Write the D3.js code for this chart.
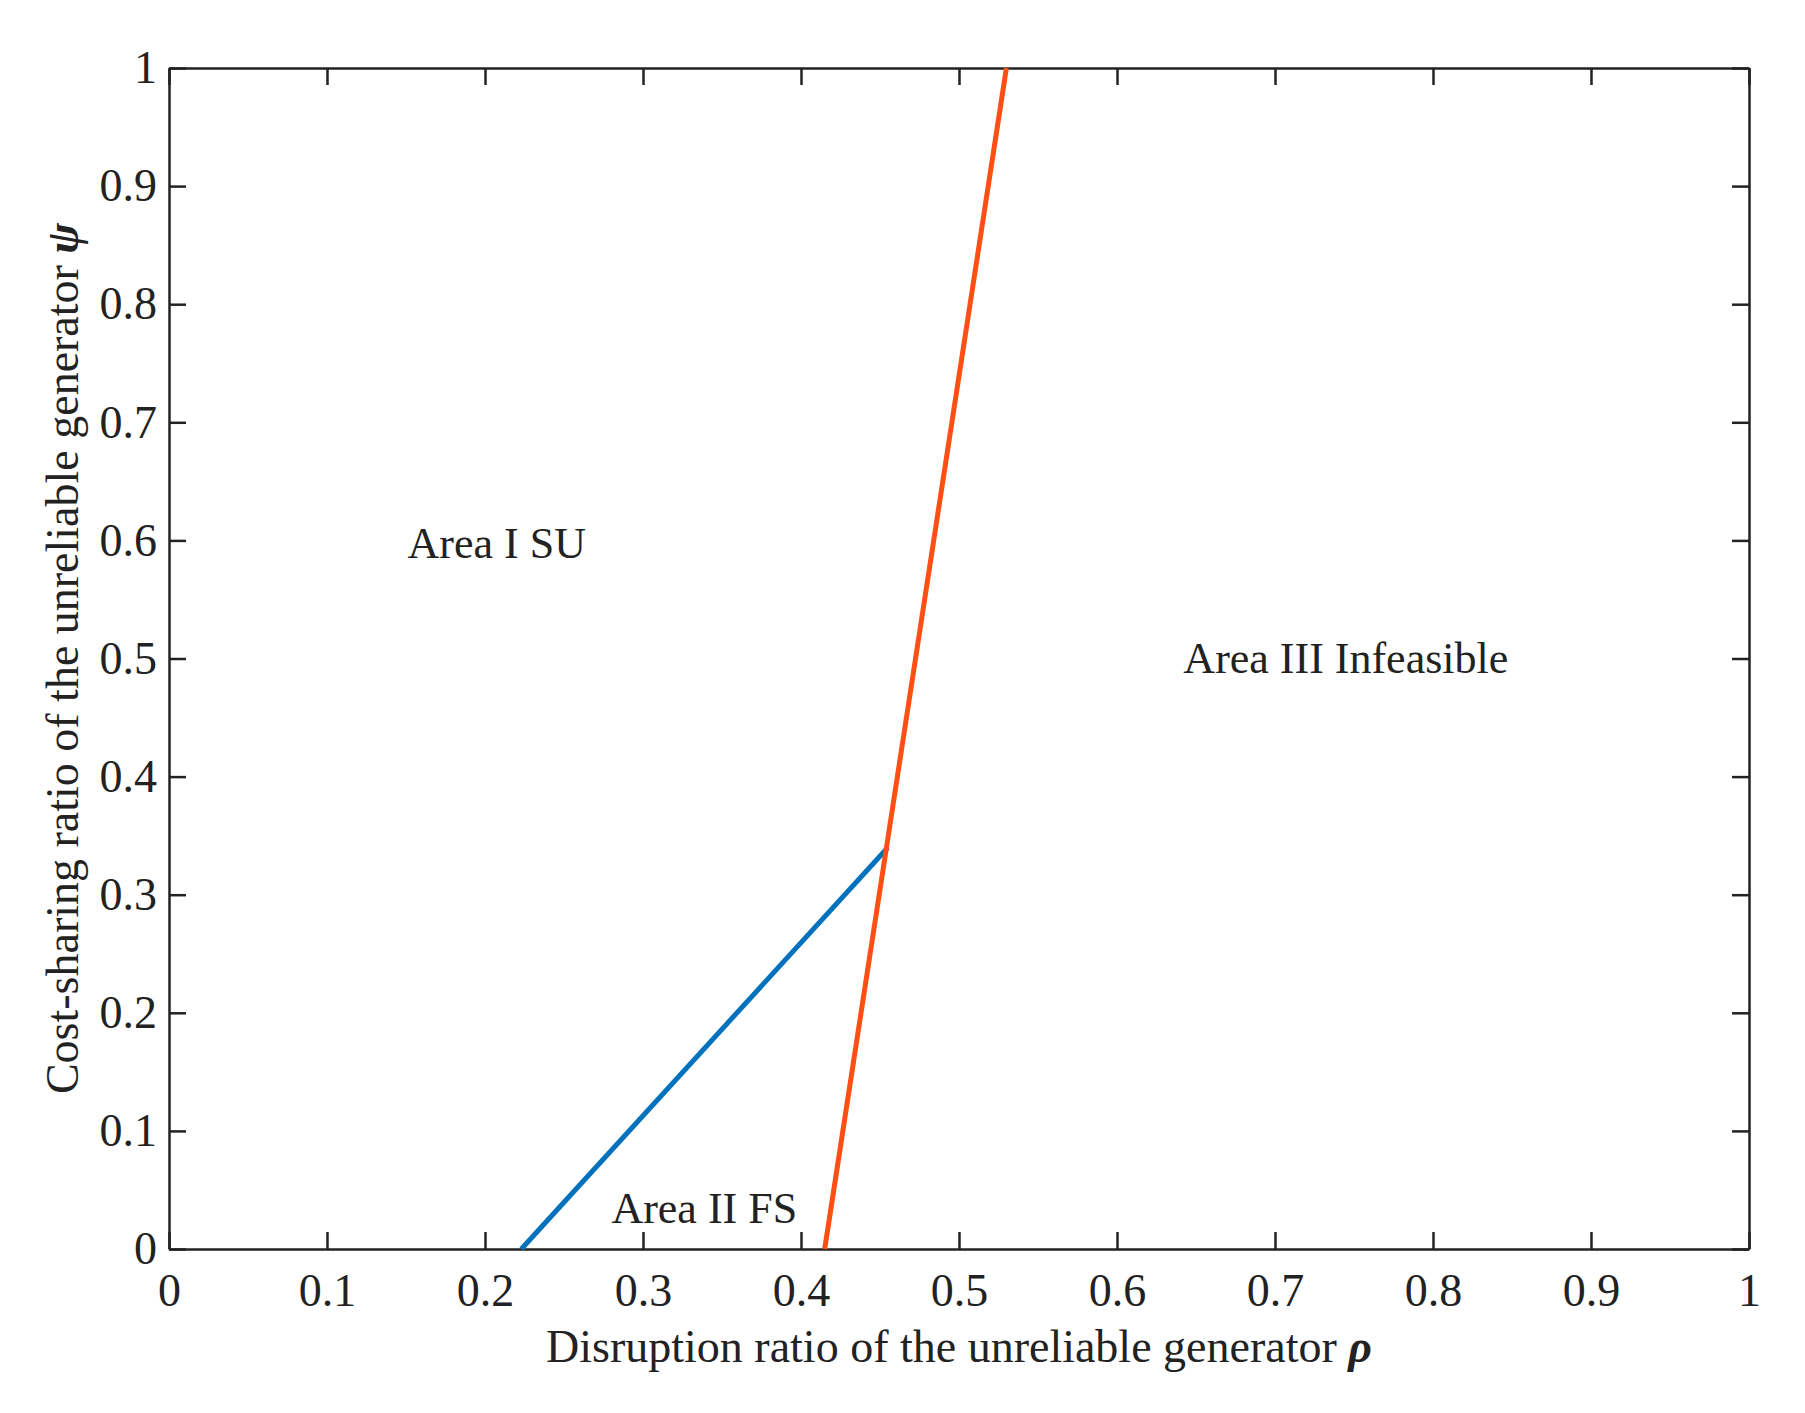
<!DOCTYPE html><html><head><meta charset="utf-8"><script src="https://cdn.jsdelivr.net/npm/d3@7"></script>
<style>body{margin:0;background:#fff}text{font-family:"Liberation Serif","Times New Roman",serif;fill:#222}</style></head><body>
<svg id="c" width="1805" height="1413"></svg>
<script>
const ticks=[0,0.1,0.2,0.3,0.4,0.5,0.6,0.7,0.8,0.9,1];
const blueRho=[0.223,0.455], bluePsi=[0,0.34];
const orangeRho=[0.415,0.53], orangePsi=[0,1];
const labels=["Area I SU","Area II FS","Area III Infeasible"];
const labelRho=[0.151,0.28,0.642], labelPsi=[0.585,0.022,0.488];
const svg=d3.select("#c");
const L=169,T=68,R=1749,B=1249;
const x=d3.scaleLinear().domain([0,1]).range([L,R]);
const y=d3.scaleLinear().domain([0,1]).range([B,T]);
const fmt=d=>d===0?"0":d===1?"1":String(d);
const tl=17;
svg.append("g").attr("transform",`translate(0,${B})`).call(d3.axisBottom(x).tickValues(ticks).tickFormat(fmt).tickSizeInner(-tl).tickSizeOuter(0).tickPadding(24));
svg.append("g").attr("transform",`translate(0,${T})`).call(d3.axisTop(x).tickValues(ticks).tickFormat("").tickSizeInner(-tl).tickSizeOuter(0));
svg.append("g").attr("transform",`translate(${L},0)`).call(d3.axisLeft(y).tickValues(ticks).tickFormat(fmt).tickSizeInner(-tl).tickSizeOuter(0).tickPadding(12));
svg.append("g").attr("transform",`translate(${R},0)`).call(d3.axisRight(y).tickValues(ticks).tickFormat("").tickSizeInner(-tl).tickSizeOuter(0));
svg.selectAll(".domain,.tick line").attr("stroke","#222").attr("stroke-width",2.5);
svg.selectAll(".tick text").attr("font-size",46).attr("fill","#222");
const line=d3.line().x(d=>x(d[0])).y(d=>y(d[1]));
svg.append("path").datum(blueRho.map((r,i)=>[r,bluePsi[i]])).attr("d",line).attr("stroke","#0072BD").attr("stroke-width",5).attr("fill","none");
svg.append("path").datum(orangeRho.map((r,i)=>[r,orangePsi[i]])).attr("d",line).attr("stroke","#FF4F14").attr("stroke-width",5).attr("fill","none");
labels.forEach((t,i)=>svg.append("text").attr("x",x(labelRho[i])).attr("y",y(labelPsi[i])).attr("font-size",44).text(t));
const xl=svg.append("text").attr("x",(L+R)/2).attr("y",1362).attr("text-anchor","middle").attr("font-size",46);
xl.append("tspan").text("Disruption ratio of the unreliable generator ");
xl.append("tspan").attr("font-style","italic").attr("font-weight","bold").text("ρ");
const yl=svg.append("text").attr("transform",`translate(78,${(T+B)/2}) rotate(-90)`).attr("text-anchor","middle").attr("font-size",46);
yl.append("tspan").text("Cost-sharing ratio of the unreliable generator ");
yl.append("tspan").attr("font-style","italic").attr("font-weight","bold").text("ψ");
</script></body></html>
